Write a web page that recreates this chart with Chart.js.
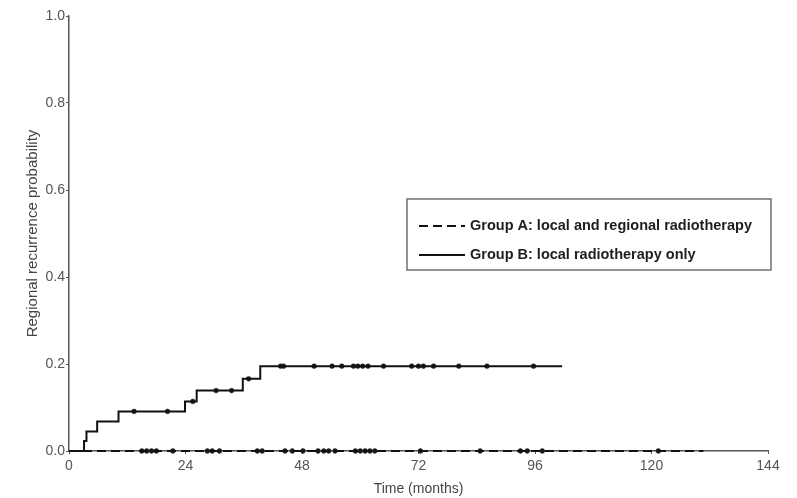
<!DOCTYPE html>
<html>
<head>
<meta charset="utf-8">
<script src="https://cdn.jsdelivr.net/npm/chart.js@4.4.1/dist/chart.umd.min.js"></script>
<style>
    html, body { margin: 0; padding: 0; background: #fff; }
    #wrap { width: 797px; height: 498px; position: relative; }
</style>
</head>
<body>
<div id="wrap"><canvas id="km-chart"></canvas></div>
<script>
// Axis ticks
const xTicks = [0, 24, 48, 72, 96, 120, 144];
const yTicks = [0, 0.2, 0.4, 0.6, 0.8, 1.0];

// Group A: no regional recurrences, line ends at last follow-up
const groupATimes = [0, 130.7];
const groupAValues = [0, 0];
const groupACensored = [15, 16, 17, 18, 21.4, 28.5, 29.5, 31, 38.8, 39.8, 44.5, 46, 48.2, 51.3,
    52.5, 53.5, 54.8, 59, 60, 61, 62, 63, 72.4, 84.7, 93, 94.4, 97.5, 121.4];

// Group B: cumulative recurrence steps
const groupBTimes = [0, 3.1, 3.6, 5.8, 10.2, 23.9, 26.3, 35.8, 39.4, 101.6];
const groupBValues = [0, 0.023, 0.045, 0.068, 0.091, 0.114, 0.139, 0.166, 0.195, 0.195];
const groupBCensoredTimes = [13.4, 20.3, 25.5, 30.3, 33.5, 37, 43.6, 44.2, 50.5, 54.2, 56.2, 58.6,
    59.5, 60.5, 61.6, 64.8, 70.6, 72.0, 73.0, 75.1, 80.3, 86.1, 95.7];

const labelA = 'Group A: local and regional radiotherapy';
const labelB = 'Group B: local radiotherapy only';

// Value of the step curve at a given time
function stepValue(times, values, t) {
    let v = values[0];
    for (let i = 0; i < times.length; i++) {
        if (times[i] <= t) v = values[i];
    }
    return v;
}

const toPoints = (xs, ys) => xs.map((x, i) => ({ x: x, y: ys[i] }));

const censorStyle = {
    showLine: false,
    clip: false,
    pointStyle: 'circle',
    pointRadius: 2.4,
    pointBackgroundColor: '#1a1a1a',
    pointBorderColor: '#1a1a1a',
    pointBorderWidth: 0.5
};

// Legend box drawn inside the plot area
const boxLegend = {
    id: 'boxLegend',
    afterDraw(chart, args, opts) {
        const ctx = chart.ctx;
        ctx.save();
        ctx.strokeStyle = '#707070';
        ctx.lineWidth = 1.5;
        ctx.strokeRect(opts.left, opts.top, opts.width, opts.height);
        ctx.font = opts.font;
        ctx.fillStyle = '#1e1e1e';
        ctx.textBaseline = 'middle';
        opts.rows.forEach((row, i) => {
            const ds = chart.data.datasets[row];
            const y = opts.top + opts.firstRow + i * opts.rowGap;
            ctx.beginPath();
            ctx.setLineDash(ds.borderDash || []);
            ctx.strokeStyle = ds.borderColor;
            ctx.lineWidth = ds.borderWidth;
            ctx.moveTo(opts.left + 12, y);
            ctx.lineTo(opts.left + 58, y);
            ctx.stroke();
            ctx.setLineDash([]);
            ctx.fillText(ds.label, opts.left + 63, y);
        });
        ctx.restore();
    }
};

new Chart(document.getElementById('km-chart'), {
    type: 'scatter',
    data: {
        datasets: [
            {
                label: labelA,
                data: toPoints(groupATimes, groupAValues),
                showLine: true,
                clip: false,
                borderColor: '#111',
                borderWidth: 2,
                borderDash: [9, 5],
                pointRadius: 0
            },
            {
                data: groupACensored.map(t => ({ x: t, y: stepValue(groupATimes, groupAValues, t) })),
                ...censorStyle
            },
            {
                label: labelB,
                data: toPoints(groupBTimes, groupBValues),
                showLine: true,
                clip: false,
                stepped: 'before',
                borderColor: '#111',
                borderWidth: 2,
                pointRadius: 0
            },
            {
                data: groupBCensoredTimes.map(t => ({ x: t, y: stepValue(groupBTimes, groupBValues, t) })),
                ...censorStyle
            }
        ]
    },
    options: {
        responsive: true,
        maintainAspectRatio: false,
        animation: false,
        layout: {
            padding: { left: 20, top: 16, right: 29, bottom: 0 }
        },
        scales: {
            x: {
                type: 'linear',
                min: 0,
                max: 144,
                afterFit: (scale) => { scale.height = 47; },
                afterBuildTicks: (scale) => { scale.ticks = xTicks.map(v => ({ value: v })); },
                border: { display: true, color: '#555', width: 1.5 },
                grid: { display: true, drawOnChartArea: false, drawTicks: true, tickLength: 3, color: '#555' },
                ticks: {
                    padding: 4,
                    color: '#555',
                    font: { family: 'Liberation Sans', size: 14 },
                    maxRotation: 0
                },
                title: {
                    display: true,
                    text: 'Time (months)',
                    color: '#444',
                    padding: { top: 0, bottom: 0 },
                    font: { family: 'Liberation Sans', size: 14 }
                }
            },
            y: {
                min: 0,
                max: 1,
                afterFit: (scale) => { scale.width = 49; },
                afterBuildTicks: (scale) => { scale.ticks = yTicks.map(v => ({ value: v })); },
                border: { display: true, color: '#555', width: 1.5 },
                grid: { display: true, drawOnChartArea: false, drawTicks: true, tickLength: 3, color: '#555' },
                ticks: {
                    padding: 1,
                    color: '#555',
                    font: { family: 'Liberation Sans', size: 14 },
                    callback: (v) => Number(v).toFixed(1)
                },
                title: {
                    display: true,
                    text: 'Regional recurrence probability',
                    color: '#444',
                    padding: { top: 4, bottom: 4 },
                    font: { family: 'Liberation Sans', size: 15 }
                }
            }
        },
        plugins: {
            legend: { display: false },
            tooltip: { enabled: false },
            boxLegend: {
                left: 407,
                top: 199,
                width: 364,
                height: 71,
                firstRow: 27,
                rowGap: 29,
                rows: [0, 2],
                font: 'bold 14.5px "Liberation Sans"'
            }
        }
    },
    plugins: [boxLegend]
});
</script>
</body>
</html>
